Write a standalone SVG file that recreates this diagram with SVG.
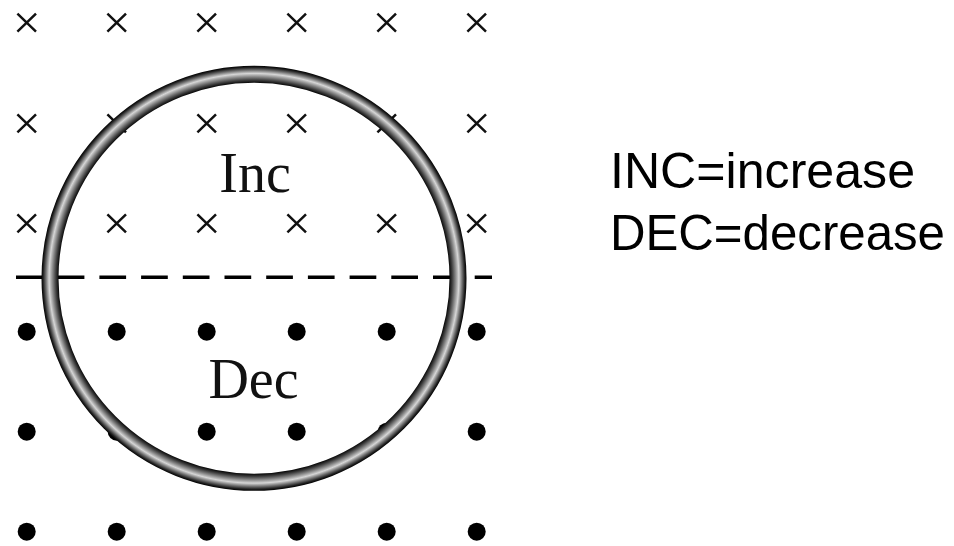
<svg xmlns="http://www.w3.org/2000/svg" width="954" height="546" viewBox="0 0 954 546">
<style>
.x{stroke:#111;stroke-width:2.5;fill:none;stroke-linecap:butt}
.d{fill:#000}
.serif{font-family:"Liberation Serif","Times New Roman",serif;font-size:56px;fill:#111;text-anchor:middle}
.sans{font-family:"Liberation Sans",Arial,sans-serif;font-size:50px;fill:#000}
</style>
<defs>
<path id="cross" d="M-9.3,-9 L9.3,9 M9.3,-9 L-9.3,9"/>
<radialGradient id="tube" gradientUnits="userSpaceOnUse" cx="254" cy="278.3" r="212.5">
<stop offset="0" stop-color="#000"/>
<stop offset="0.918" stop-color="#000"/>
<stop offset="0.932" stop-color="#3a3a3a"/>
<stop offset="0.952" stop-color="#9a9a9a"/>
<stop offset="0.964" stop-color="#d6d6d6"/>
<stop offset="0.978" stop-color="#7a7a7a"/>
<stop offset="0.992" stop-color="#222"/>
<stop offset="1" stop-color="#000"/>
</radialGradient>
</defs>
<rect width="954" height="546" fill="#fff"/>
<g id="field-into">
<use href="#cross" class="x" x="26.7" y="22.7"/>
<use href="#cross" class="x" x="116.7" y="22.7"/>
<use href="#cross" class="x" x="206.7" y="22.7"/>
<use href="#cross" class="x" x="296.7" y="22.7"/>
<use href="#cross" class="x" x="386.7" y="22.7"/>
<use href="#cross" class="x" x="476.7" y="22.7"/>
<use href="#cross" class="x" x="26.7" y="123.3"/>
<use href="#cross" class="x" x="116.7" y="123.3"/>
<use href="#cross" class="x" x="206.7" y="123.3"/>
<use href="#cross" class="x" x="296.7" y="123.3"/>
<use href="#cross" class="x" x="386.7" y="123.3"/>
<use href="#cross" class="x" x="476.7" y="123.3"/>
<use href="#cross" class="x" x="26.7" y="223.3"/>
<use href="#cross" class="x" x="116.7" y="223.3"/>
<use href="#cross" class="x" x="206.7" y="223.3"/>
<use href="#cross" class="x" x="296.7" y="223.3"/>
<use href="#cross" class="x" x="386.7" y="223.3"/>
<use href="#cross" class="x" x="476.7" y="223.3"/>
</g>
<g id="field-out">
<circle class="d" cx="26.7" cy="331.7" r="9"/>
<circle class="d" cx="116.7" cy="331.7" r="9"/>
<circle class="d" cx="206.7" cy="331.7" r="9"/>
<circle class="d" cx="296.7" cy="331.7" r="9"/>
<circle class="d" cx="386.7" cy="331.7" r="9"/>
<circle class="d" cx="476.7" cy="331.7" r="9"/>
<circle class="d" cx="26.7" cy="431.7" r="9"/>
<circle class="d" cx="116.7" cy="431.7" r="9"/>
<circle class="d" cx="206.7" cy="431.7" r="9"/>
<circle class="d" cx="296.7" cy="431.7" r="9"/>
<circle class="d" cx="386.7" cy="431.7" r="9"/>
<circle class="d" cx="476.7" cy="431.7" r="9"/>
<circle class="d" cx="26.7" cy="531.7" r="9"/>
<circle class="d" cx="116.7" cy="531.7" r="9"/>
<circle class="d" cx="206.7" cy="531.7" r="9"/>
<circle class="d" cx="296.7" cy="531.7" r="9"/>
<circle class="d" cx="386.7" cy="531.7" r="9"/>
<circle class="d" cx="476.7" cy="531.7" r="9"/>
</g>
<g id="connectors">
<line x1="16" y1="277.3" x2="492" y2="277.3" stroke="#000" stroke-width="3.6" stroke-dasharray="26.7 15"/>
</g>
<g id="loop">
<circle cx="254" cy="278.3" r="204" fill="none" stroke="url(#tube)" stroke-width="17"/>
</g>
<g id="label-inc">
<text class="serif" x="255" y="191.7">Inc</text>
</g>
<g id="label-dec">
<text class="serif" x="253.5" y="398.3">Dec</text>
</g>
<g id="legend">
<text class="sans" x="610" y="188.3" textLength="305" lengthAdjust="spacingAndGlyphs">INC=increase</text>
<text class="sans" x="610" y="250" textLength="335" lengthAdjust="spacingAndGlyphs">DEC=decrease</text>
</g>
</svg>
